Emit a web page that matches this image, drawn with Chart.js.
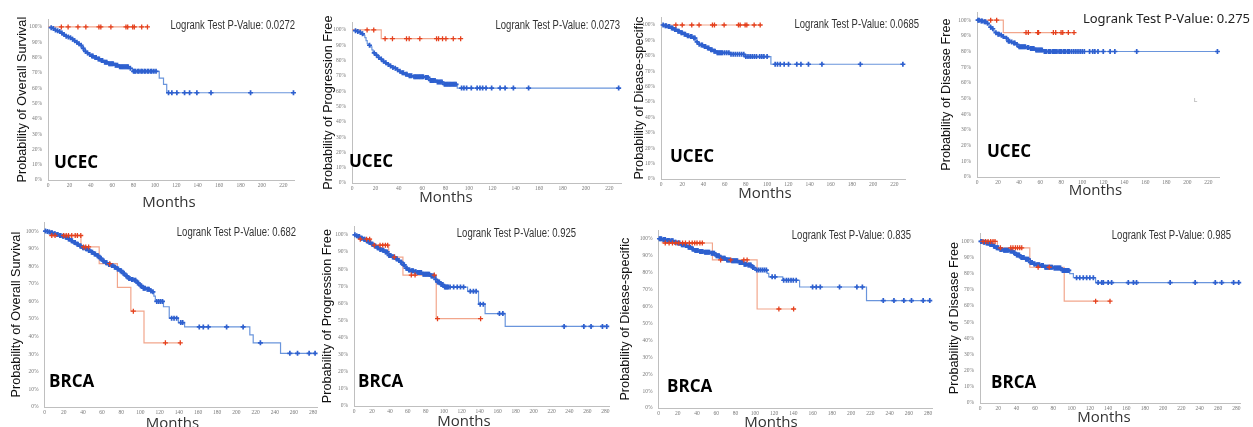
<!DOCTYPE html>
<html>
<head>
<meta charset="utf-8">
<script src="https://cdn.jsdelivr.net/npm/chart.js@4.4.1/dist/chart.umd.min.js"></script>
<style>
  html, body { margin: 0; padding: 0; background: #fff; width: 1253px; height: 427px; overflow: hidden; }
  canvas { position: absolute; }
</style>
</head>
<body>
<script>
// Kaplan-Meier curves: T = event times (months), S = survival (%) after each event, C = censor times
// red = small group, blue = large group

// UCEC overall survival
const ucecOsBlueT = [2, 4, 6, 8, 10, 12, 14, 16, 18, 20, 22, 24, 26, 28, 30, 32, 34, 36, 38, 40, 43, 46, 49, 52, 56, 62, 66, 76, 79, 104, 108, 111];
const ucecOsBlueS = [99.5, 99, 98, 97.5, 97, 96, 95, 94, 93.5, 93, 92, 91, 90, 89, 88, 86, 84, 83, 82, 81, 80, 79, 78, 77, 76, 75, 74, 73, 71, 66.5, 62.5, 57];
const ucecOsBlueC = [3, 5, 7, 9, 11, 13, 15, 17, 19, 21, 23, 25, 27, 29, 31, 33, 35, 37, 39, 41, 42, 44, 45, 47, 48, 50, 51, 53, 54, 55, 57, 58, 59, 60, 61, 63, 64, 65, 67, 68, 69, 70, 71, 72, 73, 74, 75, 77, 80, 81, 82, 84, 85, 87, 88, 90, 91, 93, 94, 96, 97, 99, 101, 112.7, 115.8, 120.5, 127.7, 132.4, 139.2, 152.4, 189.4, 229.5];
const ucecOsRedT = [];
const ucecOsRedS = [];
const ucecOsRedC = [12.5, 18.8, 28, 35.4, 47.6, 49.4, 58.8, 72.9, 74.5, 79.2, 80.7, 87.6, 93];

// UCEC progression free
const ucecPfsBlueT = [2, 4, 6, 8, 10, 11, 12, 13, 14, 16, 17, 18, 20, 22, 24, 26, 28, 30, 32, 34, 36, 38, 40, 42, 45, 48, 52, 62, 66, 72, 78, 90];
const ucecPfsBlueS = [99.5, 99, 98.5, 97.5, 96.5, 95, 93, 91, 90, 89, 87, 85, 83.5, 82, 81, 79.5, 78.5, 77.5, 76.5, 75.5, 75, 74, 73, 72, 71, 70, 69.5, 69, 67, 66, 64.5, 62];
const ucecPfsBlueC = [3, 5, 7, 9, 15, 19, 21, 23, 25, 27, 29, 31, 33, 35, 37, 39, 41, 43, 44, 46, 47, 49, 50, 51, 53, 54, 55, 56, 57, 58, 59, 60, 61, 63, 64, 65, 67, 68, 69, 70, 71, 73, 74, 75, 76, 77, 79, 80, 81, 82, 83, 84, 85, 86, 87, 88, 89, 93.7, 95.7, 98, 102, 107, 109.4, 111.7, 114.6, 119.4, 126.6, 130.9, 138, 151, 228];
const ucecPfsRedT = [25];
const ucecPfsRedS = [94.3];
const ucecPfsRedC = [12.9, 18.6, 28.3, 34.6, 46.6, 48.9, 58, 72.3, 74, 77.4, 80.3, 86.6, 92.9];

// UCEC disease specific
const ucecDssBlueT = [3, 6, 9, 12, 15, 18, 21, 24, 27, 30, 33, 35, 37, 40, 43, 46, 49, 52, 65, 79, 103.6];
const ucecDssBlueS = [99.5, 99, 98, 97, 96, 95, 94, 93, 92.5, 91.5, 89, 87.5, 87, 86, 85, 84, 83, 82, 81, 79.5, 74.5];
const ucecDssBlueC = [2, 4, 5, 7, 8, 10, 11, 13, 14, 16, 17, 19, 20, 22, 23, 25, 26, 28, 29, 31, 32, 34, 36, 38, 39, 41, 42, 44, 45, 47, 48, 50, 51, 53, 54, 55, 56, 57, 58, 60, 62, 64, 66, 68, 70, 72, 74, 76, 78, 80, 82, 84, 86, 88, 90, 93, 95, 97, 100, 107.6, 109.8, 112.4, 116.1, 120.2, 128, 131.9, 139, 151.7, 187.9, 228];
const ucecDssRedT = [];
const ucecDssRedS = [];
const ucecDssRedC = [14, 20, 29, 35.9, 48.5, 50.4, 59.5, 73, 74.6, 79.3, 80.9, 87.8, 93.5];

// UCEC disease free
const ucecDfsBlueT = [3, 6, 9, 11, 12.4, 14, 16, 17, 19, 22, 24, 26.6, 29, 32, 34.5, 37.7, 39, 47, 50, 55, 63];
const ucecDfsBlueS = [99.5, 99, 98, 97, 95.5, 94.5, 93, 92, 91, 90.5, 89.5, 88.5, 86.5, 86, 85.5, 84.5, 83, 82.5, 82, 81, 80];
const ucecDfsBlueC = [1, 2, 4, 5, 7, 8, 10, 13, 15, 18, 20, 21, 23, 25, 28, 30, 31, 33, 35, 36, 38, 40, 41, 42, 43, 44, 45, 46, 48, 49, 51, 52, 53, 54, 56, 57, 58, 59, 60, 61, 62, 64, 65, 66, 68, 69, 70, 72, 73, 74, 75, 76, 78, 79, 80, 82, 83, 84, 86, 87, 88, 90, 92, 94, 96, 98, 100, 102, 107, 110, 112, 115, 120, 126.5, 131, 151.8, 228.5];
const ucecDfsRedT = [25];
const ucecDfsRedS = [92.1];
const ucecDfsRedC = [13, 18.7, 46.6, 48.8, 57.7, 58.5, 72.6, 74.8, 79.9, 81.5, 86.8, 92.2];

// BRCA overall survival
const brcaOsBlueT = [2, 4, 6, 9, 12, 15, 18, 21, 24, 27, 30, 33, 36, 39, 42, 45, 48, 51, 54, 57, 60, 63, 66, 69, 72, 75, 78, 81, 84, 87, 90, 93, 96, 99, 102, 106, 110, 112, 114, 115.5, 124, 130, 139.5, 146, 214, 217.5, 246];
const brcaOsBlueS = [99.8, 99.5, 99, 98.5, 98, 97.5, 97, 96.5, 95.5, 94.5, 93.5, 92.5, 91.5, 90.5, 90, 89, 88, 87, 86, 84.5, 83, 82, 81, 80.5, 79.5, 78.5, 77.5, 76, 74.5, 73, 72.5, 72, 70.5, 69, 67.5, 67, 66, 65.5, 63, 60, 57, 50.5, 48, 45.5, 41, 36.5, 30.5];
const brcaOsBlueC = [1, 3, 5, 7, 8, 10, 11, 13, 14, 16, 17, 19, 20, 22, 23, 25, 26, 28, 29, 31, 32, 34, 35, 37, 38, 40, 41, 43, 44, 46, 47, 49, 50, 52, 53, 55, 56, 58, 59, 61, 62, 64, 65, 67, 68, 70, 71, 73, 74, 76, 77, 79, 80, 82, 83, 85, 86, 88, 89, 91, 92, 94, 95, 97, 98, 100, 101, 103, 104, 105, 107, 108, 109, 111, 113, 117, 119, 121, 123, 132.5, 135, 137.7, 142, 144, 161.3, 165.5, 170.7, 189.8, 207, 225, 255.7, 263.7, 275.8, 282];
const brcaOsRedT = [6, 38, 57, 76, 90, 103.7];
const brcaOsRedS = [97.5, 91, 81.5, 68, 54.5, 36.5];
const brcaOsRedC = [7.6, 11, 20, 22.6, 25, 28.4, 32, 34.3, 37.8, 40.6, 43, 46, 68, 92.6, 126, 141.5];

// BRCA progression free
const brcaPfsBlueT = [2, 4, 7, 10, 13, 16, 19, 22, 25, 28, 31, 34, 38, 42, 46, 49, 51.5, 54, 57, 60, 63, 67, 70, 76, 85, 90, 92, 96, 100, 126.5, 138.7, 146, 168.4];
const brcaPfsBlueS = [99.5, 99, 98, 97.5, 96.5, 95.5, 94.5, 93.5, 92.5, 91.5, 91, 90, 88, 87, 86, 85, 84, 82.5, 80.5, 79.5, 79, 78.5, 78, 77, 76, 74, 72.5, 71, 69.5, 67, 59.5, 54, 46.5];
const brcaPfsBlueC = [1, 3, 5, 6, 8, 9, 11, 12, 14, 15, 17, 18, 20, 21, 23, 24, 26, 27, 29, 30, 32, 33, 35, 36, 37, 39, 40, 41, 43, 44, 45, 47, 48, 50, 52, 53, 55, 56, 58, 59, 61, 62, 64, 65, 66, 68, 69, 71, 72, 73, 74, 75, 77, 78, 79, 80, 81, 82, 83, 84, 86, 87, 88, 89, 91, 93, 94, 95, 97, 98, 99, 101, 102, 103, 104, 105, 107, 111, 115, 118.6, 122, 129.5, 133, 136, 140.6, 144, 162, 165.8, 234, 256, 264, 276.7, 281.5];
const brcaPfsRedT = [5, 19, 38.6, 54.5, 91.6];
const brcaPfsRedS = [97.5, 94, 87, 76.5, 51];
const brcaPfsRedC = [7, 14, 17.4, 22.6, 29, 32, 35, 37.5, 45, 63.8, 68, 89.4, 93, 141];

// BRCA disease specific
const brcaDssBlueT = [4, 8, 12.8, 16, 19.7, 23, 27, 30, 34, 37, 42, 47, 54, 59, 64.5, 70, 75, 83, 88, 92, 97, 100.7, 112.8, 114.5, 129, 146.5, 216];
const brcaDssBlueS = [99.5, 99, 98.8, 98, 97.5, 96.5, 96, 95, 94, 93, 92.5, 92, 91.5, 90, 88.5, 87.5, 87, 86, 85, 84.5, 83, 81.5, 79.5, 77.5, 75.5, 71.5, 63.5];
const brcaDssBlueC = [1, 2, 3, 5, 6, 7, 9, 10, 11, 13, 14, 15, 17, 18, 20, 21, 22, 24, 25, 26, 28, 29, 31, 32, 33, 35, 36, 38, 39, 40, 41, 43, 44, 45, 46, 48, 49, 50, 51, 52, 53, 55, 56, 57, 58, 60, 61, 62, 63, 65, 66, 67, 68, 69, 71, 72, 73, 74, 76, 77, 78, 79, 80, 81, 82, 84, 85, 86, 87, 89, 90, 91, 93, 94, 95, 96, 98, 99, 102, 104, 106, 108, 110, 112, 118, 121, 130, 132.8, 135, 137.6, 140, 143, 160, 163.8, 168, 188, 206, 211.7, 233.4, 244.5, 254.8, 262.7, 274.8, 281.7];
const brcaDssRedT = [4, 56, 102.4];
const brcaDssRedS = [97.5, 87.5, 58.5];
const brcaDssRedC = [7, 11, 14.5, 18, 21, 25, 28, 32, 35, 37.6, 40, 43, 45.5, 64.5, 75, 88.6, 92, 125, 140.3];

// BRCA disease free
const brcaDfsBlueT = [3, 6, 10.6, 14, 17.9, 21, 25, 32.5, 36, 39.8, 44, 49, 54.4, 58, 61.7, 66, 70.8, 80, 89, 98, 102, 126.3];
const brcaDfsBlueS = [99.5, 99, 98, 97, 96, 95, 94.5, 94, 93, 91.5, 90, 89, 87, 86, 85.5, 85, 84, 83.5, 82, 80, 77.5, 74.5];
const brcaDfsBlueC = [1, 2, 4, 5, 7, 8, 9, 11, 12, 13, 15, 16, 18, 19, 20, 22, 23, 24, 26, 27, 28, 29, 30, 31, 33, 34, 35, 37, 38, 40, 41, 42, 43, 45, 46, 47, 48, 50, 51, 52, 53, 55, 56, 57, 59, 60, 62, 63, 64, 65, 67, 68, 69, 71, 72, 73, 74, 75, 76, 77, 78, 79, 81, 82, 83, 84, 85, 86, 87, 88, 90, 91, 92, 93, 94, 95, 96, 97, 105.5, 109, 112.8, 116.5, 120, 123.8, 129, 133, 134.7, 140, 143.8, 162, 167.6, 171, 207.7, 235, 257, 264, 277, 282.6];
const brcaDfsRedT = [19, 54.4, 92];
const brcaDfsRedS = [96, 84, 63];
const brcaDfsRedC = [3.3, 6.2, 8.8, 11.7, 14.2, 16.4, 22.3, 33.6, 36, 38.7, 41, 43.4, 45.6, 63.5, 75.6, 126.3, 142];

// tick / text content
const yTickSuffix = '%';
const pValues = ['0.0272', '0.0273', '0.0685', '0.275', '0.682', '0.925', '0.835', '0.985'];
const yTitles = ['Probability of Overall Survival', 'Probability of Progression Free', 'Probability of Diease-specific', 'Probability of Disease Free'];
const cancers = ['UCEC', 'BRCA'];

const BLUE_LINE = '#6a95dc';
const BLUE_MARK = '#2e60cf';
const RED_LINE = '#f2a68c';
const RED_MARK = '#e5401d';
const PAD_TOP = 5;
const X_H = 30;

const sans = '"Liberation Sans", Arial, sans-serif';

// plot boxes are page coordinates of the axes (L,R at x min/max; T at 105%, B at 0%)
const panels = [
  { box: { L: 48, R: 293.6, T: 15, B: 180 }, yw: 34, padR: 12, xMax: 230, title: 0, cancer: 0,
    blue: [ucecOsBlueT, ucecOsBlueS, ucecOsBlueC], red: [ucecOsRedT, ucecOsRedS, ucecOsRedC],
    label: [54, 168], pval: [295, 29], months: [169, 207] },
  { box: { L: 352, R: 620.7, T: 18, B: 183 }, yw: 32, padR: 12, xMax: 230, title: 1, cancer: 0,
    blue: [ucecPfsBlueT, ucecPfsBlueS, ucecPfsBlueC], red: [ucecPfsRedT, ucecPfsRedS, ucecPfsRedC],
    label: [349, 167], pval: [620, 29.3], months: [446, 201.7] },
  { box: { L: 661, R: 904.6, T: 13, B: 179 }, yw: 30, padR: 18, xMax: 230, title: 2, cancer: 0,
    blue: [ucecDssBlueT, ucecDssBlueS, ucecDssBlueC], red: [ucecDssRedT, ucecDssRedS, ucecDssRedC],
    label: [670, 162], pval: [919, 28.3], months: [765, 198] },
  { box: { L: 977, R: 1218.5, T: 8, B: 177 }, yw: 39, padR: 34, xMax: 230, title: 3, cancer: 0,
    blue: [ucecDfsBlueT, ucecDfsBlueS, ucecDfsBlueC], red: [ucecDfsRedT, ucecDfsRedS, ucecDfsRedC],
    label: [987, 157], pval: [1250, 22.7], months: [1095.5, 195], wide: true, stray: [1194, 102] },
  { box: { L: 44, R: 317, T: 218, B: 407 }, yw: 36.5, padR: 12, xMax: 284, title: 0, cancer: 1,
    blue: [brcaOsBlueT, brcaOsBlueS, brcaOsBlueC], red: [brcaOsRedT, brcaOsRedS, brcaOsRedC],
    label: [49, 387], pval: [296, 235.7], months: [172.5, 427.5] },
  { box: { L: 354, R: 608.5, T: 222, B: 406 }, yw: 35, padR: 12, xMax: 284, title: 1, cancer: 1,
    blue: [brcaPfsBlueT, brcaPfsBlueS, brcaPfsBlueC], red: [brcaPfsRedT, brcaPfsRedS, brcaPfsRedC],
    label: [358, 387], pval: [576, 236.7], months: [464, 426] },
  { box: { L: 658, R: 932, T: 226, B: 408 }, yw: 41.5, padR: 12, xMax: 284, title: 2, cancer: 1,
    blue: [brcaDssBlueT, brcaDssBlueS, brcaDssBlueC], red: [brcaDssRedT, brcaDssRedS, brcaDssRedC],
    label: [667, 392], pval: [911, 238.7], months: [771, 427] },
  { box: { L: 980, R: 1240, T: 229, B: 403 }, yw: 34, padR: 12, xMax: 284, title: 3, cancer: 1,
    blue: [brcaDfsBlueT, brcaDfsBlueS, brcaDfsBlueC], red: [brcaDfsRedT, brcaDfsRedS, brcaDfsRedC],
    label: [991, 388], pval: [1231, 238.7], months: [1104, 422] },
];

function stepLine(T, S, C) {
  const end = Math.max(...C, ...T);
  const pts = [{ x: 0, y: 100 }];
  T.forEach((t, i) => pts.push({ x: t, y: S[i] }));
  pts.push({ x: end, y: S.length ? S[S.length - 1] : 100 });
  return pts;
}

function survAt(T, S, t) {
  let v = 100;
  T.forEach((ti, i) => { if (ti <= t) v = S[i]; });
  return v;
}

function censorPoints(T, S, C) {
  return C.map(t => ({ x: t, y: survAt(T, S, t) }));
}

// draws p-value, cancer label and x title at page positions
const panelText = {
  id: 'panelText',
  afterDraw(chart, args, opts) {
    const { ctx } = chart;
    opts.items.forEach(it => {
      ctx.save();
      ctx.font = it.font;
      ctx.fillStyle = it.color;
      ctx.textAlign = it.align;
      ctx.textBaseline = 'alphabetic';
      ctx.translate(it.x - opts.ox, it.y - opts.oy);
      ctx.scale(it.sx || 1, 1);
      ctx.fillText(it.text, 0, 0);
      ctx.restore();
    });
  }
};

const tickFont = { family: '"Liberation Serif", "DejaVu Serif", serif', size: 5.5 };

panels.forEach((p, idx) => {
  const left = Math.round(p.box.L - p.yw);
  const top = Math.round(p.box.T - PAD_TOP);
  const width = Math.round(p.box.R + p.padR) - left;
  const height = Math.round(p.box.B + X_H) - top;

  const cv = document.createElement('canvas');
  cv.width = width;
  cv.height = height;
  cv.style.left = left + 'px';
  cv.style.top = top + 'px';
  cv.style.width = width + 'px';
  cv.style.height = height + 'px';
  document.body.appendChild(cv);

  const [bT, bS, bC] = p.blue;
  const [rT, rS, rC] = p.red;

  const items = [
    p.wide
      ? { text: 'Logrank Test P-Value: ' + pValues[idx], x: p.pval[0], y: p.pval[1], align: 'right', color: '#222',
          font: '13px "Noto Sans", "Open Sans", sans-serif' }
      : { text: 'Logrank Test P-Value: ' + pValues[idx], x: p.pval[0], y: p.pval[1], align: 'right', color: '#333',
          font: '12.5px ' + sans, sx: 0.76 },
    { text: cancers[p.cancer], x: p.label[0], y: p.label[1], align: 'left', color: '#000',
      font: 'bold 17px "Open Sans", "Noto Sans", sans-serif' },
    { text: 'Months', x: p.months[0], y: p.months[1], align: 'center', color: '#333',
      font: '15px "Open Sans", "Noto Sans", sans-serif' },
  ];
  if (p.stray) {
    items.push({ text: 'L', x: p.stray[0], y: p.stray[1], align: 'left', color: '#999',
      font: '6px ' + sans });
  }

  new Chart(cv, {
    type: 'line',
    data: {
      datasets: [
        // censor marks (drawn on top)
        {
          data: censorPoints(rT, rS, rC),
          showLine: false,
          pointStyle: 'cross',
          pointRadius: 2.5,
          pointBorderWidth: 1.3,
          pointBorderColor: RED_MARK,
          clip: 6,
        },
        {
          data: censorPoints(bT, bS, bC),
          showLine: false,
          pointStyle: 'cross',
          pointRadius: 2.5,
          pointBorderWidth: 1.7,
          pointBorderColor: BLUE_MARK,
          clip: 6,
        },
        // step lines
        {
          data: stepLine(rT, rS, rC),
          stepped: true,
          borderColor: RED_LINE,
          borderWidth: 1.2,
          pointRadius: 0,
          clip: 6,
        },
        {
          data: stepLine(bT, bS, bC),
          stepped: true,
          borderColor: BLUE_LINE,
          borderWidth: 1.2,
          pointRadius: 0,
          clip: 6,
        },
      ],
    },
    options: {
      responsive: false,
      animation: false,
      events: [],
      layout: {
        padding: { top: PAD_TOP, right: p.padR, bottom: 0, left: 0 },
      },
      scales: {
        x: {
          type: 'linear',
          min: 0,
          max: p.xMax,
          border: { display: true, color: '#bfbfbf', width: 1 },
          grid: { display: false, drawTicks: false },
          ticks: {
            stepSize: 20,
            maxTicksLimit: 20,
            includeBounds: false,
            autoSkip: false,
            maxRotation: 0,
            padding: 2,
            font: tickFont,
            color: '#7a7a7a',
          },
          afterFit: (s) => { s.height = X_H; },
        },
        y: {
          type: 'linear',
          min: 0,
          max: 105,
          border: { display: true, color: '#bfbfbf', width: 1 },
          grid: { display: false, drawTicks: false },
          ticks: {
            stepSize: 10,
            maxTicksLimit: 20,
            includeBounds: false,
            padding: 6,
            font: tickFont,
            color: '#7a7a7a',
            callback: (v) => v + yTickSuffix,
          },
          title: {
            display: true,
            text: yTitles[p.title],
            color: '#111',
            padding: 0,
            font: { family: sans, size: 12.7, lineHeight: 1.4 },
          },
          afterFit: (s) => { s.width = p.yw; },
        },
      },
      plugins: {
        legend: { display: false },
        tooltip: { enabled: false },
        panelText: { items, ox: left, oy: top },
      },
    },
    plugins: [panelText],
  });
});
</script>
</body>
</html>
